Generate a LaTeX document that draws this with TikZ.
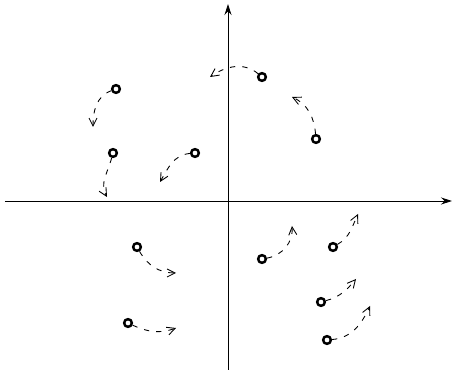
\documentclass[tikz,border=0pt]{standalone}
\usepackage{tikz}
\usetikzlibrary{
  arrows.meta
}
\tikzset{
  plane axis/.style={
    line width=0.5pt,
    -{Stealth[length=2.2mm,width=1.4mm]}
  },
  flow path/.style={
    line width=0.5pt,
    dash pattern=on 3pt off 4pt,
    -{Straight Barb[length=1.6mm,width=1.6mm]}
  },
  root/.style={
    circle,
    draw=black,
    line width=1.4pt,
    fill=white,
    inner sep=0pt,
    minimum size=4.4pt
  }
}

\begin{document}
\begin{tikzpicture}[x=0.02cm,y=0.02cm]
    \useasboundingbox (0,0) rectangle (454,372);

    % 座標軸
    \coordinate (W) at (5,171);
    \coordinate (E) at (452,171);
    \coordinate (S) at (228,2);
    \coordinate (N) at (228,368);
    \draw[plane axis] (W) -- (E);
    \draw[plane axis] (S) -- (N);

    % 点
    \node[root] (p1) at (116,283) {};
    \node[root] (p2) at (113,219) {};
    \node[root] (p3) at (195,219) {};
    \node[root] (p4) at (262,295) {};
    \node[root] (p5) at (316,233) {};
    \node[root] (p6) at (137,125) {};
    \node[root] (p7) at (128,49) {};
    \node[root] (p8) at (262,113) {};
    \node[root] (p9) at (333,125) {};
    \node[root] (p10) at (321,70) {};
    \node[root] (p11) at (327,32) {};

    % 矢印の先
    \coordinate (q1) at (93,245);
    \coordinate (q2) at (107,175);
    \coordinate (q3) at (160,190);
    \coordinate (q4) at (210,295);
    \coordinate (q5) at (292,275);
    \coordinate (q6) at (176,99);
    \coordinate (q7) at (176,44);
    \coordinate (q8) at (292,146);
    \coordinate (q9) at (358,158);
    \coordinate (q10) at (356,93);
    \coordinate (q11) at (370,66);

    % 流れ
    \draw[flow path] (p1) to[out=200,in=90] (q1);
    \draw[flow path] (p2) to[out=255,in=120] (q2);
    \draw[flow path] (p3) to[out=185,in=60] (q3);
    \draw[flow path] (p4) to[out=140,in=35] (q4);
    \draw[flow path] (p5) to[out=95,in=-25] (q5);
    \draw[flow path] (p6) to[out=-60,in=180] (q6);
    \draw[flow path] (p7) to[out=-25,in=200] (q7);
    \draw[flow path] (p8) to[out=10,in=-85] (q8);
    \draw[flow path] (p9) to[out=30,in=-115] (q9);
    \draw[flow path] (p10) to[out=15,in=-130] (q10);
    \draw[flow path] (p11) to[out=5,in=-115] (q11);

  \end{tikzpicture}
\end{document}
